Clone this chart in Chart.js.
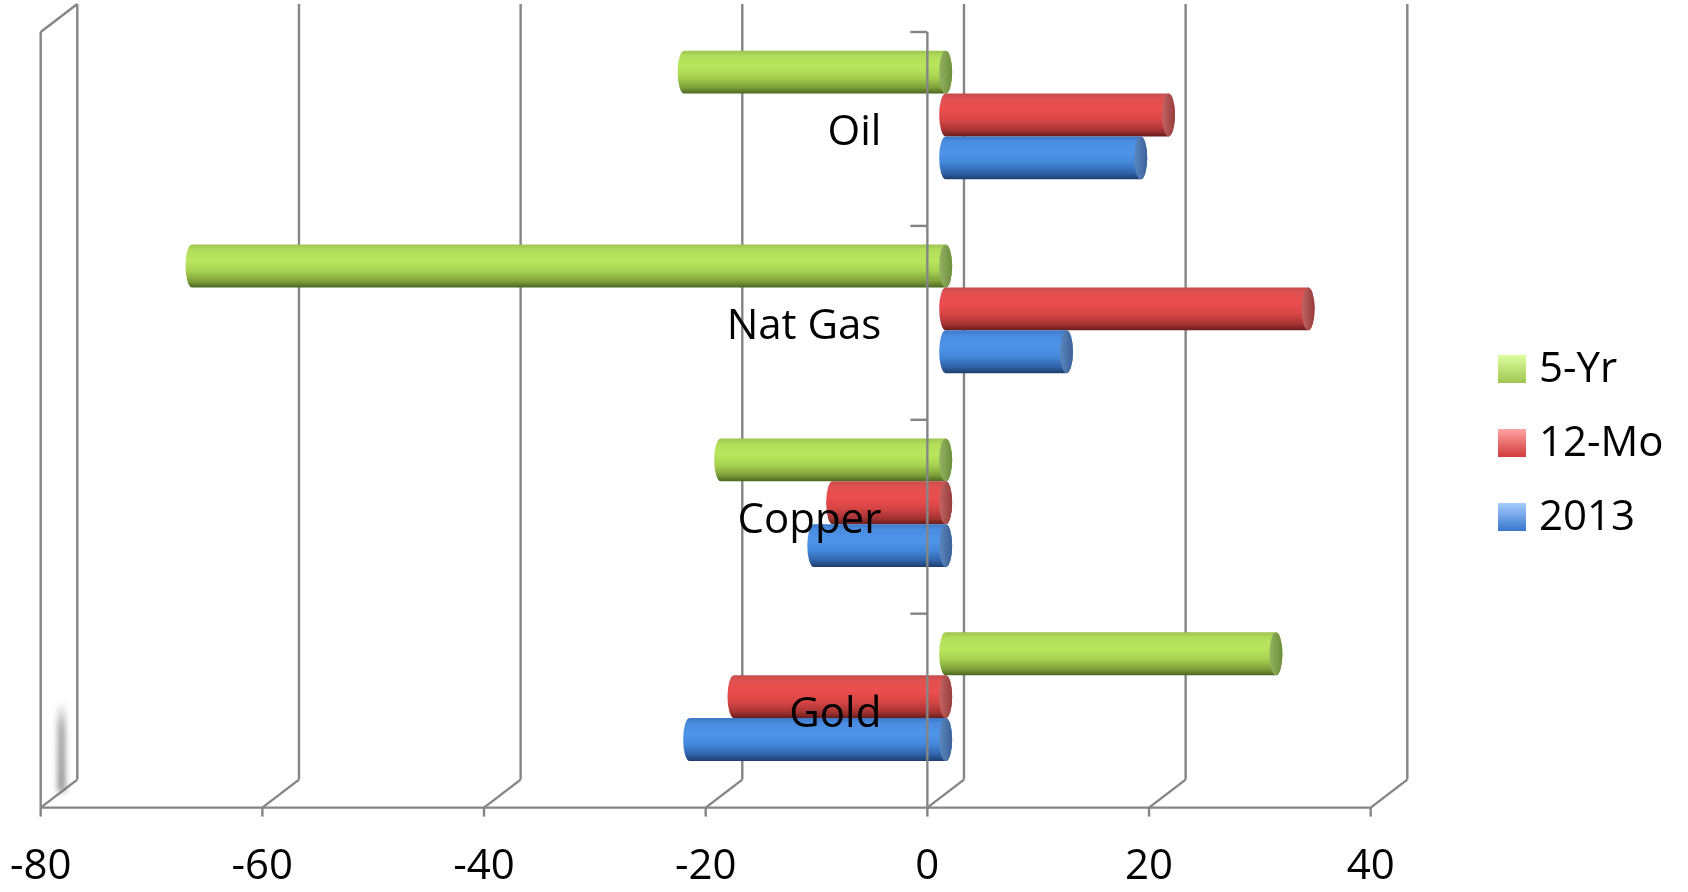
<!DOCTYPE html>
<html>
<head>
<meta charset="utf-8">
<title>Commodity returns</title>
<script src="https://cdn.jsdelivr.net/npm/chart.js@4.4.0/dist/chart.umd.min.js"></script>
<style>
  html, body { margin: 0; padding: 0; background: #fff; }
  #wrap { position: relative; width: 1688px; height: 892px; }
</style>
</head>
<body>
<div id="wrap"><canvas id="returns-chart" width="1688" height="892"></canvas></div>
<script>
// percent change per commodity
const categories = ['Oil', 'Nat Gas', 'Copper', 'Gold'];
const seriesNames = ['5-Yr', '12-Mo', '2013'];
const fiveYr = [-23.6, -68.0, -20.3, 29.8];
const twelveMo = [20.1, 32.7, -10.2, -19.1];
const ytd2013 = [17.6, 10.9, -11.9, -23.1];
const xMin = -80, xMax = 40, xStep = 20;

const FONT = "'Open Sans', 'DejaVu Sans', sans-serif";
const GRID = '#858585';
// shift from the front of the floor to the back wall
const DEPTH_X = 36.6, DEPTH_Y = 28;

// cylinder shading, top to bottom
const stopPos = [0, 0.12, 0.38, 0.62, 0.86, 1];
const palette = [
  { body: ['#9cc450', '#b2dd5a', '#b9e65d', '#a7d251', '#7d9f39', '#4b6621'], cap: ['#93b462', '#6d8d3e'], key: ['#dcffa0', '#a0c650'] },
  { body: ['#c44c4c', '#e15151', '#ec4d4d', '#d74545', '#a63333', '#681d1d'], cap: ['#c46565', '#963b3b'], key: ['#ffa2a2', '#d23c3c'] },
  { body: ['#3c78c6', '#4a8ce0', '#4d95e9', '#4387d9', '#2f61a7', '#1d3d6b'], cap: ['#5c87c0', '#3b6197'], key: ['#a6ccff', '#3878cc'] }
];

function cylinder(ctx, x0, x1, yc, h, colors) {
  const left = Math.min(x0, x1), right = Math.max(x0, x1);
  const r = h / 2, e = 6.5;
  const g = ctx.createLinearGradient(0, yc - r, 0, yc + r);
  colors.body.forEach((c, i) => g.addColorStop(stopPos[i], c));
  ctx.beginPath();
  ctx.ellipse(left, yc, e, r, 0, Math.PI / 2, Math.PI * 1.5);
  ctx.lineTo(right, yc - r);
  ctx.ellipse(right, yc, e, r, 0, -Math.PI / 2, Math.PI / 2);
  ctx.closePath();
  ctx.fillStyle = g;
  ctx.fill();
  // end face on the right
  const cg = ctx.createLinearGradient(right - e, 0, right + e, 0);
  cg.addColorStop(0, colors.cap[0]);
  cg.addColorStop(1, colors.cap[1]);
  ctx.beginPath();
  ctx.ellipse(right, yc, e, r, 0, 0, Math.PI * 2);
  ctx.fillStyle = cg;
  ctx.fill();
}

function line(ctx, x1, y1, x2, y2) {
  ctx.beginPath();
  ctx.moveTo(x1, y1);
  ctx.lineTo(x2, y2);
  ctx.stroke();
}

const walls = {
  id: 'walls',
  beforeDatasetsDraw(chart) {
    const {ctx, chartArea: a, scales: {x}} = chart;
    const hx = DEPTH_X / 2, hy = DEPTH_Y / 2;
    ctx.save();
    ctx.strokeStyle = GRID;
    ctx.lineWidth = 2.4;
    // back wall gridlines running down onto the floor
    x.ticks.forEach(t => {
      const px = x.getPixelForValue(t.value);
      line(ctx, px + hx, a.top - hy, px + hx, a.bottom - hy);
      line(ctx, px + hx, a.bottom - hy, px - hx, a.bottom + hy);
    });
    // left side wall
    const lx = x.getPixelForValue(xMin);
    line(ctx, lx - hx, a.top + hy, lx - hx, a.bottom + hy);
    line(ctx, lx - hx, a.top + hy, lx + hx, a.top - hy);
    // front edge of the floor with tick marks
    const rx = x.getPixelForValue(xMax);
    line(ctx, lx - hx, a.bottom + hy, rx - hx, a.bottom + hy);
    x.ticks.forEach(t => {
      const px = x.getPixelForValue(t.value) - hx;
      line(ctx, px, a.bottom + hy, px, a.bottom + hy + 9);
    });
    // soft shadow at the foot of the side wall
    ctx.filter = 'blur(3px)';
    const sg = ctx.createLinearGradient(0, a.bottom - 92, 0, a.bottom - 2);
    sg.addColorStop(0, 'rgba(110,110,110,0)');
    sg.addColorStop(0.3, 'rgba(110,110,110,0.7)');
    sg.addColorStop(1, 'rgba(110,110,110,0.85)');
    ctx.fillStyle = sg;
    ctx.fillRect(lx - 1, a.bottom - 92, 7, 90);
    ctx.restore();
  },
  afterDatasetsDraw(chart) {
    const {ctx, chartArea: a, scales: {x, y}} = chart;
    const hx = DEPTH_X / 2, hy = DEPTH_Y / 2;
    ctx.save();
    // cylinders from the bar geometry
    chart.data.datasets.forEach((ds, di) => {
      chart.getDatasetMeta(di).data.forEach(bar => {
        const p = bar.getProps(['x', 'y', 'base', 'height'], true);
        cylinder(ctx, p.base, p.x, p.y, p.height, palette[di]);
      });
    });
    // category axis standing at zero on the front plane
    const zx = x.getPixelForValue(0) - hx;
    ctx.strokeStyle = GRID;
    ctx.lineWidth = 2.4;
    line(ctx, zx, a.top + hy, zx, a.bottom + hy);
    const band = (a.bottom - a.top) / categories.length;
    for (let i = 0; i < categories.length; i++) {
      const ty = a.top + hy + band * i;
      line(ctx, zx - 17, ty, zx, ty);
    }
    // category names
    ctx.fillStyle = '#000';
    ctx.font = '42px ' + FONT;
    ctx.textAlign = 'right';
    ctx.textBaseline = 'middle';
    categories.forEach((c, i) => {
      ctx.fillText(c, zx - 46, y.getPixelForValue(i) + hy + 4);
    });
    ctx.restore();
  },
  afterDraw(chart) {
    const ctx = chart.ctx;
    const bx = 1498, size = 28, firstY = 369, step = 74;
    ctx.save();
    ctx.font = '42px ' + FONT;
    ctx.textAlign = 'left';
    ctx.textBaseline = 'middle';
    chart.data.datasets.forEach((ds, i) => {
      const cy = firstY + step * i;
      const g = ctx.createLinearGradient(0, cy - size / 2, 0, cy + size / 2);
      g.addColorStop(0, palette[i].key[0]);
      g.addColorStop(1, palette[i].key[1]);
      ctx.fillStyle = g;
      ctx.fillRect(bx, cy - size / 2, size, size);
      ctx.fillStyle = '#000';
      ctx.fillText(ds.label, bx + size + 13, cy + 1);
    });
    ctx.restore();
  }
};

const series = [fiveYr, twelveMo, ytd2013];

new Chart(document.getElementById('returns-chart'), {
  type: 'bar',
  data: {
    labels: categories,
    datasets: series.map((values, i) => ({
      label: seriesNames[i],
      data: values,
      backgroundColor: 'rgba(0,0,0,0)',
      barPercentage: 1,
      categoryPercentage: 0.663
    }))
  },
  options: {
    responsive: false,
    animation: false,
    devicePixelRatio: 1,
    indexAxis: 'y',
    layout: { padding: { left: 59, right: 299, top: 18, bottom: 0 } },
    plugins: {
      legend: { display: false },
      tooltip: { enabled: false }
    },
    scales: {
      x: {
        min: xMin,
        max: xMax,
        // tick marks are hidden; their length only spaces the labels below the floor
        grid: { display: false, drawTicks: true, tickLength: 48 },
        border: { display: false },
        ticks: {
          stepSize: xStep,
          padding: 0,
          labelOffset: -DEPTH_X / 2,
          color: '#000',
          font: { family: FONT, size: 42 }
        }
      },
      y: { display: false }
    }
  },
  plugins: [walls]
});
</script>
</body>
</html>
